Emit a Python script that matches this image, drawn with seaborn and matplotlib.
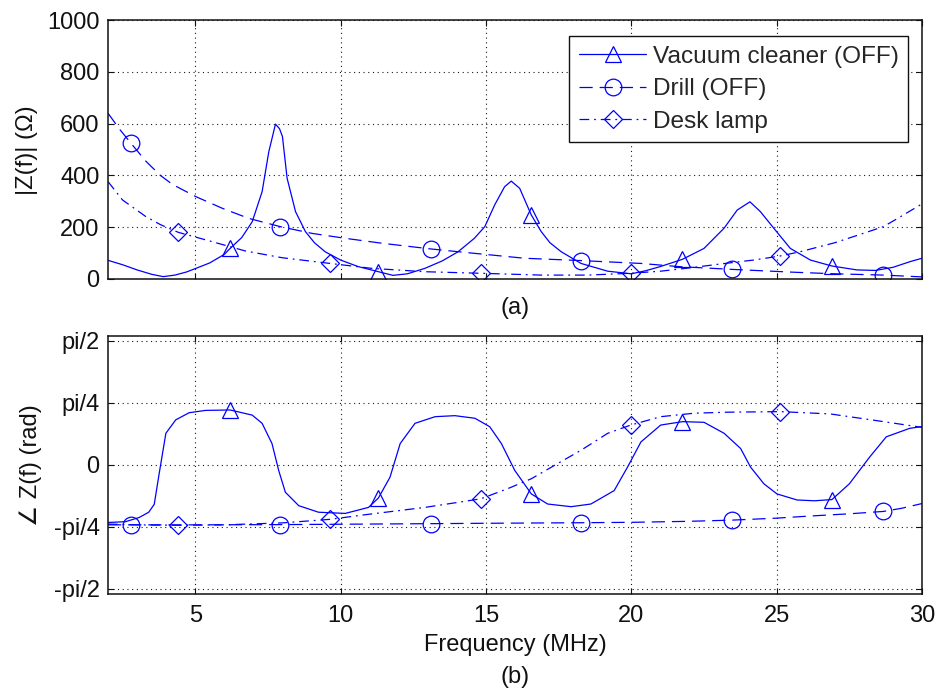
import numpy as np
import matplotlib
matplotlib.use("Agg")
import matplotlib.pyplot as plt
from matplotlib.lines import Line2D
import seaborn as sns

# ─────────────────────────────────────────────
# DATA
# ─────────────────────────────────────────────
# (a) magnitude |Z(f)| in ohm
vac_f = [2.0, 2.5, 3.0, 3.5, 3.9, 4.3, 4.7, 5.0, 5.5, 6.0, 6.2, 6.6, 6.96, 7.3,
         7.53, 7.76, 7.9, 8.0, 8.16, 8.45, 8.79, 9.1, 9.47, 10.0, 10.6, 11.3,
         11.8, 12.3, 12.9, 13.5, 14.04, 14.6, 14.96, 15.3, 15.64, 15.87, 16.16,
         16.56, 16.9, 17.2, 17.59, 18.27, 19.19, 20.0, 20.5, 21.0, 21.76, 22.5,
         23.19, 23.64, 24.08, 24.44, 24.9, 25.47, 26.16, 26.9, 27.76, 28.4,
         29.0, 29.59, 30.0]
vac_mag = [72, 55, 35, 18, 9, 15, 27, 40, 62, 95, 118, 160, 221, 337,
           491, 598, 580, 550, 389, 260, 183, 140, 105, 73, 48, 28,
           14, 20, 41, 70, 105, 157, 202, 286, 356, 378, 350,
           247, 183, 140, 105, 60, 30, 20, 32, 48, 76, 118,
           196, 266, 298, 260, 196, 118, 73, 50, 35, 33,
           45, 67, 80]

drill_f = [2.0, 2.4, 2.79, 3.3, 3.8, 4.22, 5.02, 5.93, 6.84, 7.93, 9.02, 10.16,
           11.42, 13.1, 14.6, 16.33, 18.27, 20.33, 21.6, 23.47, 25.6, 27.0,
           28.67, 30.0]
drill_mag = [640, 578, 524, 455, 400, 365, 318, 273, 234, 202, 176, 157,
             138, 116, 99, 80, 71, 60, 48, 37, 26, 20,
             15, 8]

lamp_f = [2.0, 2.5, 3.3, 3.8, 4.42, 5.36, 6.73, 7.99, 9.64, 11.07, 12.9, 14.82,
          16.9, 18.5, 19.98, 21.0, 22.1, 23.0, 24.2, 25.13, 25.8, 27.0, 27.76,
          28.67, 29.13, 30.0]
lamp_mag = [376, 305, 241, 210, 180, 151, 108, 82, 60, 41, 28, 22,
            15, 15, 22, 30, 44, 57, 73, 89, 105, 140, 168,
            202, 232, 290]

# (b) phase angle of Z(f) in rad
vac_pf = [2.0, 2.6, 3.07, 3.4, 3.59, 3.76, 3.99, 4.33, 4.79, 5.36, 6.2, 6.96,
          7.3, 7.64, 7.87, 8.1, 8.56, 9.24, 10.16, 10.96, 11.3, 11.7, 12.05,
          12.56, 13.25, 13.93, 14.62, 15.13, 15.53, 15.99, 16.56, 17.12, 17.93,
          18.61, 19.41, 19.87, 20.33, 21.01, 21.76, 22.5, 23.19, 23.76, 24.1,
          24.56, 25.01, 25.7, 26.3, 26.9, 27.5, 28.2, 28.77, 29.57, 30.0]
vac_ph = [-0.73, -0.72, -0.667, -0.60, -0.50, -0.11, 0.40, 0.57, 0.66, 0.69,
          0.695, 0.63, 0.526, 0.27, -0.07, -0.347, -0.517, -0.60, -0.615,
          -0.539, -0.42, -0.156, 0.27, 0.526, 0.61, 0.623, 0.59, 0.483, 0.27,
          -0.07, -0.368, -0.496, -0.53, -0.496, -0.326, -0.028, 0.29, 0.504,
          0.547, 0.539, 0.40, 0.207, -0.028, -0.24, -0.368, -0.445, -0.455,
          -0.44, -0.24, 0.10, 0.355, 0.462, 0.485]

drill_pf = [2.0, 2.79, 5.0, 7.93, 10.0, 13.1, 15.0, 18.27, 20.0, 22.0, 23.47,
            25.0, 26.16, 27.5, 28.67, 29.3, 30.0]
drill_ph = [-0.76, -0.76, -0.76, -0.757, -0.752, -0.745, -0.74, -0.733, -0.728,
            -0.715, -0.70, -0.675, -0.648, -0.62, -0.59, -0.55, -0.49]

lamp_pf = [2.0, 3.0, 4.42, 6.0, 8.0, 9.64, 10.84, 12.9, 14.04, 14.82, 15.76,
           16.56, 17.36, 18.27, 19.19, 19.98, 21.01, 22.16, 23.3, 25.13, 26.84,
           28.44, 30.0]
lamp_ph = [-0.75, -0.76, -0.765, -0.76, -0.735, -0.69, -0.632, -0.539, -0.475,
           -0.43, -0.30, -0.176, -0.006, 0.185, 0.40, 0.504, 0.61, 0.654, 0.667,
           0.674, 0.645, 0.56, 0.475]

# frequencies where the markers sit
vac_marks = [6.2, 11.3, 16.56, 21.76, 26.9]
drill_marks = [2.79, 7.93, 13.1, 18.27, 23.47, 28.67]
lamp_marks = [4.42, 9.64, 14.82, 19.98, 25.13]

labels = ["Vacuum cleaner (OFF)", "Drill (OFF)", "Desk lamp"]
mag_ticks = [0, 200, 400, 600, 800, 1000]
phase_ticks = [-np.pi / 2, -np.pi / 4, 0, np.pi / 4, np.pi / 2]
phase_ticklabels = ["-pi/2", "-pi/4", "0", "pi/4", "pi/2"]
freq_ticks = [5, 10, 15, 20, 25, 30]

# ─────────────────────────────────────────────
# STYLE
# ─────────────────────────────────────────────
sns.set_theme(style="ticks")
plt.rcParams["font.family"] = ["Liberation Sans", "DejaVu Sans"]
plt.rcParams["lines.scale_dashes"] = False
FS = 17
BLUE = "#0000ff"
INK = "#111111"

styles = [
    dict(ls="-", marker="^", ms=12),
    dict(ls=(0, (9.5, 5)), marker="o", ms=12),
    dict(ls=(0, (7, 3.5, 1.3, 3.5)), marker="D", ms=9.5),
]


def draw(ax, f, v, marks, st):
    f = np.asarray(f)
    idx = [int(np.argmin(np.abs(f - m))) for m in marks]
    sns.lineplot(x=f, y=v, ax=ax, color=BLUE, lw=0.9, linestyle=st["ls"],
                 marker=st["marker"], markevery=idx, ms=st["ms"],
                 mfc="none", mec=BLUE, mew=0.9, errorbar=None, sort=False)


def frame(ax):
    ax.set_xlim(2, 30)
    ax.set_xticks(freq_ticks)
    ax.grid(True, color="k", ls=(0, (0.8, 2.6)), lw=0.8)
    ax.tick_params(direction="in", length=4, width=0.8, top=True, right=True,
                   labelsize=FS, colors=INK, pad=6)
    for s in ax.spines.values():
        s.set_color(INK)
        s.set_linewidth(1.1)
    ax.set_xlabel("")
    ax.set_ylabel("")


fig = plt.figure(figsize=(9.36, 6.95), dpi=100)
ax_mag = fig.add_axes([0.1154, 0.5986, 0.8697, 0.3726])
ax_ph = fig.add_axes([0.1154, 0.1453, 0.8697, 0.3717])

# ─────────────────────────────────────────────
# (a) magnitude
# ─────────────────────────────────────────────
draw(ax_mag, vac_f, vac_mag, vac_marks, styles[0])
draw(ax_mag, drill_f, drill_mag, drill_marks, styles[1])
draw(ax_mag, lamp_f, lamp_mag, lamp_marks, styles[2])
frame(ax_mag)
ax_mag.set_ylim(0, 1000)
ax_mag.set_yticks(mag_ticks)
ax_mag.tick_params(labelbottom=False)

handles = [Line2D([], [], color=BLUE, lw=0.9, ls=st["ls"], marker=st["marker"],
                  ms=st["ms"], mfc="none", mec=BLUE, mew=0.9) for st in styles]
leg = ax_mag.legend(handles, labels, loc="upper right",
                    bbox_to_anchor=(0.983, 0.938), borderaxespad=0,
                    fancybox=False, edgecolor=INK, framealpha=1, fontsize=17.6,
                    handlelength=2.75, handletextpad=0.25, labelspacing=0.42,
                    borderpad=0.4)
leg.get_frame().set_linewidth(1.0)

# ─────────────────────────────────────────────
# (b) phase
# ─────────────────────────────────────────────
draw(ax_ph, vac_pf, vac_ph, vac_marks, styles[0])
draw(ax_ph, drill_pf, drill_ph, drill_marks, styles[1])
draw(ax_ph, lamp_pf, lamp_ph, lamp_marks, styles[2])
frame(ax_ph)
ax_ph.set_ylim(-1.636, 1.636)
ax_ph.set_yticks(phase_ticks)
ax_ph.set_yticklabels(phase_ticklabels)
ax_ph.tick_params(axis="x", pad=8)

# labels
fig.text(515 / 936, 1 - 308 / 695, "(a)", ha="center", va="center", fontsize=FS, color=INK)
fig.text(515 / 936, 1 - 645 / 695, "Frequency (MHz)", ha="center", va="center", fontsize=FS, color=INK)
fig.text(515 / 936, 1 - 677 / 695, "(b)", ha="center", va="center", fontsize=FS, color=INK)
fig.text(27 / 936, 1 - 150 / 695, "|Z(f)| (Ω)", rotation=90, ha="center", va="center",
         fontsize=FS, color=INK)
fig.text(31 / 936, 1 - 465 / 695, "∠ Z(f) (rad)", rotation=90, ha="center", va="center",
         fontsize=FS, color=INK)

fig.savefig("out.png", dpi=100, facecolor="white")
